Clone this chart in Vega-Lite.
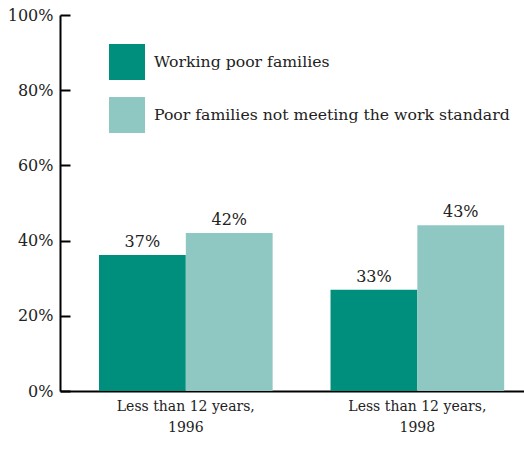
{
  "$schema": "https://vega.github.io/schema/vega-lite/v6.json",
  "width": 464,
  "height": 376,
  "autosize": {"type": "none"},
  "padding": {"left": 60, "top": 15, "right": 0, "bottom": 58},
  "background": "white",
  "config": {
    "view": {"stroke": null},
    "font": "DejaVu Serif",
    "text": {"font": "DejaVu Serif"},
    "axis": {"labelFont": "DejaVu Serif"},
    "legend": {"labelFont": "DejaVu Serif"}
  },
  "data": {
    "values": [
      {"group": "1996", "series": "Working poor families", "value": 36.2, "label": "37%"},
      {"group": "1996", "series": "Poor families not meeting the work standard", "value": 42.0, "label": "42%"},
      {"group": "1998", "series": "Working poor families", "value": 26.9, "label": "33%"},
      {"group": "1998", "series": "Poor families not meeting the work standard", "value": 44.1, "label": "43%"}
    ]
  },
  "encoding": {
    "x": {
      "field": "group",
      "type": "nominal",
      "sort": null,
      "scale": {"paddingInner": 0.25, "paddingOuter": 0.127, "align": 0.663},
      "axis": {
        "labelExpr": "'Less than 12 years,'",
        "ticks": false,
        "domainColor": "black",
        "domainWidth": 2,
        "labelFont": "DejaVu Serif",
        "labelFontSize": 14,
        "labelPadding": 8,
        "labelAngle": 0,
        "labelColor": "#222",
        "title": null
      }
    }
  },
  "layer": [
    {
      "mark": {"type": "bar"},
      "encoding": {
        "xOffset": {"field": "series", "type": "nominal", "sort": null},
        "y": {
          "field": "value",
          "type": "quantitative",
          "scale": {"domain": [0, 100], "nice": false},
          "axis": {
            "values": [0, 20, 40, 60, 80, 100],
            "labelExpr": "datum.value + '%'",
            "grid": false,
            "title": null,
            "domainColor": "black",
            "domainWidth": 2,
            "tickColor": "black",
            "tickWidth": 2,
            "tickSize": -10,
            "labelPadding": 17,
            "labelFont": "DejaVu Serif",
            "labelFontSize": 16,
            "labelColor": "#222"
          }
        },
        "color": {
          "field": "series",
          "type": "nominal",
          "sort": null,
          "scale": {
            "domain": ["Working poor families", "Poor families not meeting the work standard"],
            "range": ["#008f7c", "#8fc8c2"]
          },
          "legend": {
            "orient": "none",
            "legendX": 49,
            "legendY": 29,
            "title": null,
            "symbolType": "square",
            "symbolSize": 1296,
            "symbolStrokeWidth": 0,
            "symbolOpacity": 1,
            "labelFont": "DejaVu Serif",
            "labelFontSize": 15.7,
            "labelOffset": 9,
            "rowPadding": 17,
            "padding": 0,
            "labelColor": "#222",
            "labelLimit": 500
          }
        }
      }
    },
    {
      "mark": {"type": "text", "baseline": "bottom", "dy": -5, "fontSize": 16, "font": "DejaVu Serif", "color": "#222"},
      "encoding": {
        "xOffset": {"field": "series", "type": "nominal", "sort": null},
        "y": {"field": "value", "type": "quantitative"},
        "text": {"field": "label"}
      }
    },
    {
      "transform": [{"filter": "datum.series === 'Working poor families'"}],
      "mark": {"type": "text", "baseline": "middle", "dy": 37, "fontSize": 14, "font": "DejaVu Serif", "color": "#222"},
      "encoding": {
        "y": {"datum": 0},
        "text": {"field": "group"},
        "fontWeight": {"condition": {"test": "datum.group === '1998'", "value": "bold"}, "value": "normal"}
      }
    }
  ]
}
